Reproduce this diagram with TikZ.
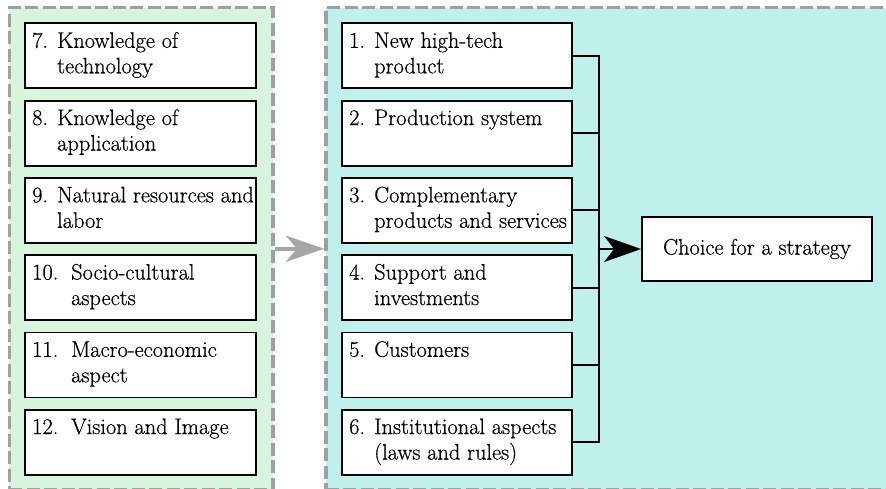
\documentclass[tikz,border=0pt]{standalone}
\usepackage{fontspec}
\newfontfamily\txtfont{Latin Modern Roman}[FakeBold=0.5]
\usetikzlibrary{arrows.meta}
\definecolor{dgray}{HTML}{A0A0A0}
\definecolor{agray}{HTML}{A6A6A6}
\definecolor{lgreen}{HTML}{D6F5DC}
\definecolor{lcyan}{HTML}{C0F0EC}
\newcommand\itemtext[3]{\makebox[#1][l]{#2}\parbox[t]{220pt}{\raggedright #3}}
\begin{document}
\begin{tikzpicture}[x=1pt,y=-1pt,
  every node/.style={font=\txtfont\fontsize{22.4}{25.5}\selectfont},
  container/.style={draw=dgray, line width=3.5pt, dash pattern=on 13pt off 4.5pt},
  fbox/.style={draw, line width=1.8pt, fill=white, minimum width=231pt, minimum height=65pt, inner sep=0pt, anchor=north west},
  txt/.style={inner sep=0pt, anchor=base west, align=left},
  conn/.style={draw, line width=1.8pt},
  arr/.style={draw, line width=1.6pt, -{Stealth[length=37pt,width=26pt,inset=10pt]}},
  garr/.style={draw=agray, line width=4.5pt, -{Stealth[length=38pt,width=26pt,inset=11pt]}, color=agray},
]
\path[use as bounding box, clip] (0,0) rectangle (886,489);
% containers
\node[container, fill=lgreen, minimum width=263.5pt, minimum height=482pt, inner sep=0pt, anchor=north west] (leftc) at (7.5,6) {};
\node[container, fill=lcyan, minimum width=580pt, minimum height=482pt, inner sep=0pt, anchor=north west] (rightc) at (324,6) {};
% left boxes
\foreach \i/\n in {0/7,1/8,2/9,3/10,4/11,5/12}{
  \node[fbox] (b\n) at (24,22.5+77.25*\i) {};
}
\node[txt] (t7) at ([shift={(8,25.3)}]b7.north west) {\itemtext{25pt}{7.}{Knowledge of\\technology}};
\node[txt] (t8) at ([shift={(8,25.3)}]b8.north west) {\itemtext{25pt}{8.}{Knowledge of\\application}};
\node[txt] (t9) at ([shift={(8,25.3)}]b9.north west) {\itemtext{25pt}{9.}{Natural resources and\\labor}};
\node[txt] (t10) at ([shift={(8,25.3)}]b10.north west) {\itemtext{39pt}{10.}{Socio-cultural\\aspects}};
\node[txt] (t11) at ([shift={(8,25.3)}]b11.north west) {\itemtext{39pt}{11.}{Macro-economic\\aspect}};
\node[txt] (t12) at ([shift={(8,25.3)}]b12.north west) {\itemtext{39pt}{12.}{Vision and Image}};
% right boxes
\foreach \i/\n in {0/1,1/2,2/3,3/4,4/5,5/6}{
  \node[fbox, minimum width=230pt] (b\n) at (341,22.5+77.25*\i) {};
}
\node[txt] (t1) at ([shift={(8,25.3)}]b1.north west) {\itemtext{25pt}{1.}{New high-tech\\product}};
\node[txt] (t2) at ([shift={(8,25.3)}]b2.north west) {\itemtext{25pt}{2.}{Production system}};
\node[txt] (t3) at ([shift={(8,25.3)}]b3.north west) {\itemtext{25pt}{3.}{Complementary\\products and services}};
\node[txt] (t4) at ([shift={(8,25.3)}]b4.north west) {\itemtext{25pt}{4.}{Support and\\investments}};
\node[txt] (t5) at ([shift={(8,25.3)}]b5.north west) {\itemtext{25pt}{5.}{Customers}};
\node[txt] (t6) at ([shift={(8,25.3)}]b6.north west) {\itemtext{25pt}{6.}{Institutional aspects\\(laws and rules)}};
% choice
\node[draw, line width=1.8pt, fill=white, minimum width=230pt, minimum height=64pt, inner sep=0pt] (choice) at (757,249) {Choice for a strategy};
% bus
\coordinate (bus) at (599,249);
\draw[conn] (b1.east) -- (b1.east -| bus) -- (b6.east -| bus) -- (b6.east);
\foreach \n in {2,3,4,5}{
  \draw[conn] (b\n.east) -- (b\n.east -| bus);
}
\draw[arr] (bus) -- (choice.west);
% gray arrow
\draw[garr] (leftc.east) -- (rightc.west);
\end{tikzpicture}
\end{document}
